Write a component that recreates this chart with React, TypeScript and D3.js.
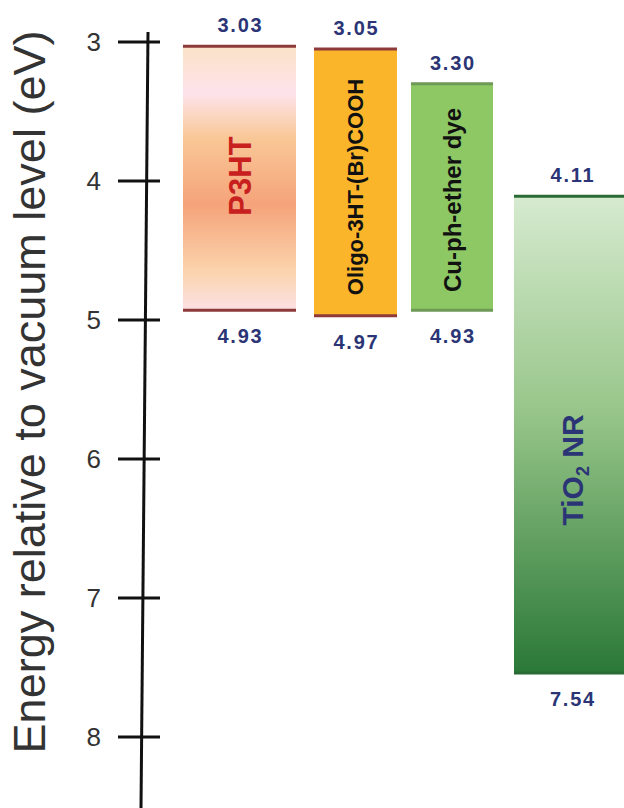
import * as React from "react";
import * as d3 from "d3";

// energy levels (eV)
const materials = ["P3HT", "Oligo-3HT-(Br)COOH", "Cu-ph-ether dye", "TiO2 NR"];
const lumo = [3.03, 3.05, 3.30, 4.11];
const homo = [4.93, 4.97, 4.93, 7.54];
const yTicks = [3, 4, 5, 6, 7, 8];

const W = 624, H = 808;

export default function App() {
  const y = d3.scaleLinear().domain([3, 8]).range([42, 737]);

  // band positions along x
  const x = d3.scaleOrdinal<string, number>().domain(materials).range([183, 314, 411, 514]);
  const bw = d3.scaleOrdinal<string, number>().domain(materials).range([113, 83, 82, 116]);

  const fills = ["url(#gP3HT)", "#fbb52b", "#8dc865", "url(#gTiO2)"];
  const edge = ["#8e3a3a", "#8e3a3a", "#6e9a55", "#2a6a35"];
  const labelColor = ["#c8201e", "#111", "#111", "#2b3576"];
  const labelSize = [31, 22, 24, 30];
  const labelY = [176, 187, 200, 470];

  const boldFont = "'Liberation Sans', Arial, sans-serif";
  const axisFont = "'Liberation Sans', Arial, sans-serif";

  return (
    <svg width={W} height={H} style={{ position: "absolute", left: 0, top: 0, background: "#fff" }}>
      <defs>
        <linearGradient id="gP3HT" x1="0" y1="0" x2="0" y2="1">
          <stop offset="0" stopColor="#fbe2c8" />
          <stop offset="0.18" stopColor="#fde3ea" />
          <stop offset="0.35" stopColor="#f9c796" />
          <stop offset="0.6" stopColor="#f5a37a" />
          <stop offset="0.85" stopColor="#fbd3ac" />
          <stop offset="1" stopColor="#fbe1e4" />
        </linearGradient>
        <linearGradient id="gTiO2" x1="0" y1="0" x2="0" y2="1">
          <stop offset="0" stopColor="#d6eacf" />
          <stop offset="0.45" stopColor="#98c68a" />
          <stop offset="1" stopColor="#2a7837" />
        </linearGradient>
      </defs>

      {/* axis title */}
      <text
        transform={`translate(45,${392}) rotate(-90)`}
        textAnchor="middle"
        fontFamily={axisFont}
        fontSize={45}
        fill="#333"
      >
        Energy relative to vacuum level (eV)
      </text>

      {/* axis line, slightly slanted as in the figure */}
      <line x1={148} y1={32} x2={141} y2={H} stroke="#111" strokeWidth={3} />
      {yTicks.map(t => (
        <g key={t}>
          <line x1={118} x2={160} y1={y(t)} y2={y(t)} stroke="#111" strokeWidth={3} />
          <text x={101} y={y(t) + 9} textAnchor="end" fontFamily={axisFont} fontSize={26} fill="#333">
            {t}
          </text>
        </g>
      ))}

      {/* bands */}
      {materials.map((m, i) => {
        const x0 = x(m), w = bw(m);
        const y0 = y(lumo[i]), y1 = y(homo[i]);
        const cx = x0 + w / 2;
        return (
          <g key={m}>
            <rect x={x0} y={y0} width={w} height={y1 - y0} fill={fills[i]} />
            <line x1={x0} x2={x0 + w} y1={y0} y2={y0} stroke={edge[i]} strokeWidth={3} />
            <line x1={x0} x2={x0 + w} y1={y1} y2={y1} stroke={edge[i]} strokeWidth={3} />
            <text x={cx + 1} y={y0 - 14} textAnchor="middle" fontFamily={boldFont} fontWeight="bold" fontSize={20} letterSpacing={1.8} fill="#2b3576">
              {lumo[i].toFixed(2)}
            </text>
            <text x={cx + 1} y={y1 + 33} textAnchor="middle" fontFamily={boldFont} fontWeight="bold" fontSize={20} letterSpacing={1.8} fill="#2b3576">
              {homo[i].toFixed(2)}
            </text>
            <text
              transform={`translate(${cx + labelSize[i] * 0.36},${labelY[i]}) rotate(-90)`}
              textAnchor="middle"
              fontFamily={boldFont}
              fontWeight="bold"
              fontSize={labelSize[i]}
              fill={labelColor[i]}
            >
              {m === "TiO2 NR" ? (
                <>
                  TiO<tspan fontSize={18} dy={6}>2</tspan>
                  <tspan dy={-6}> NR</tspan>
                </>
              ) : (
                m
              )}
            </text>
          </g>
        );
      })}
    </svg>
  );
}
